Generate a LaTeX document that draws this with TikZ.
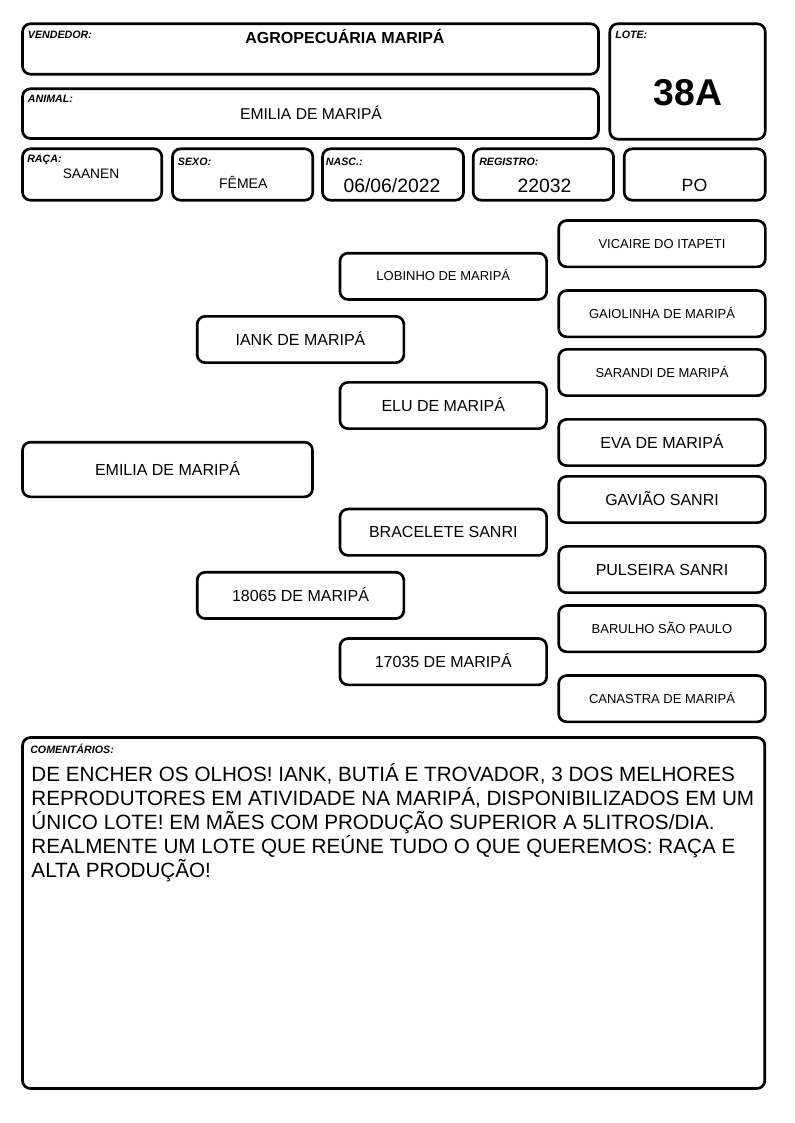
\documentclass[tikz,border=0pt]{standalone}
\usepackage{fontspec}
\setmainfont{Liberation Sans}
\usetikzlibrary{positioning}

\begin{document}
\begin{tikzpicture}[x=0.75pt,y=-0.75pt]
\tikzset{
	frame/.style = {draw, line width=2pt, rounded corners=6pt},
	tag/.style = {anchor=base west, inner sep=0, font=\fontsize{8}{9}\selectfont\bfseries\itshape},
	value/.style = {anchor=base, inner sep=0},
	gen/.style = {frame, minimum width=155pt, minimum height=34.7pt, inner sep=0,
		text height=8.6pt, text depth=0pt, font=\fontsize{12}{14}\selectfont},
	gensmall/.style = {gen, text height=7pt, font=\fontsize{9.75}{11}\selectfont}
}
\useasboundingbox (0,0) rectangle (794,1123);

% cabecalho
\draw[frame] (22.5,23.8) rectangle (598.5,74.2);
\draw[frame] (22.5,88.8) rectangle (598.5,138.5);
\draw[frame] (609.8,23.8) rectangle (765.2,139.2);
\node[tag] (vendedor) at (27.7,39) {VENDEDOR:};
\node[value, font=\fontsize{12}{14}\selectfont\bfseries] (vendedornome) at (345,43.3) {AGROPECUÁRIA MARIPÁ};
\node[tag] (animal) at (27.7,102.3) {ANIMAL:};
\node[value, font=\fontsize{11.75}{14}\selectfont] (animalnome) at (311,119.3) {EMILIA DE MARIPÁ};
\node[tag] (lote) at (615,39) {LOTE:};
\node[value, font=\fontsize{28}{32}\selectfont\bfseries] (lotenum) at (688,105.7) {38A};

% dados
\draw[frame] (22.5,148.8) rectangle (161.8,200.2);
\draw[frame] (172.5,148.8) rectangle (312.8,200.2);
\draw[frame] (322.5,148.8) rectangle (463.5,200.2);
\draw[frame] (473.2,148.8) rectangle (613.5,200.2);
\draw[frame] (624.2,148.8) rectangle (765.2,200.2);
\node[tag] (raca) at (27,162.5) {RAÇA:};
\node[value, font=\fontsize{10.3}{12}\selectfont] (racaval) at (91,178.3) {SAANEN};
\node[tag] (sexo) at (177.7,165.7) {SEXO:};
\node[value, font=\fontsize{10.5}{12}\selectfont] (sexoval) at (243.3,189) {FÊMEA};
\node[tag] (nasc) at (325.7,165.7) {NASC.:};
\node[value, font=\fontsize{14.5}{16}\selectfont] (nascval) at (392,192.3) {06/06/2022};
\node[tag] (registro) at (479,165.7) {REGISTRO:};
\node[value, font=\fontsize{14.5}{16}\selectfont] (registroval) at (544.5,192.3) {22032};
\node[value, font=\fontsize{13.3}{15}\selectfont] (categoria) at (694.5,191.7) {PO};

% genealogia
\node[gen, minimum width=217.5pt, minimum height=41pt] (emilia) at (167.5,469.5) {EMILIA DE MARIPÁ};

\node[gen] (iank) at (300.5,339.5) {IANK DE MARIPÁ};
\node[gen] (m18065) at (300.5,595.4) {18065 DE MARIPÁ};

\node[gensmall] (lobinho) at (443.3,276.3) {LOBINHO DE MARIPÁ};
\node[gen] (elu) at (443.3,405.5) {ELU DE MARIPÁ};
\node[gen] (bracelete) at (443.3,532.2) {BRACELETE SANRI};
\node[gen] (m17035) at (443.3,661.7) {17035 DE MARIPÁ};

\node[gensmall] (vicaire) at (662,243.7) {VICAIRE DO ITAPETI};
\node[gensmall] (gaiolinha) at (662,313.7) {GAIOLINHA DE MARIPÁ};
\node[gensmall] (sarandi) at (662,372.5) {SARANDI DE MARIPÁ};
\node[gen] (eva) at (662,442.5) {EVA DE MARIPÁ};
\node[gen] (gaviao) at (662,499.5) {GAVIÃO SANRI};
\node[gen] (pulseira) at (662,569.5) {PULSEIRA SANRI};
\node[gensmall] (barulho) at (662,628.7) {BARULHO SÃO PAULO};
\node[gensmall] (canastra) at (662,698.7) {CANASTRA DE MARIPÁ};

% comentarios
\draw[frame] (22.5,737.5) rectangle (764.8,1088.5);
\node[tag] (comentarios) at (30,753.3) {COMENTÁRIOS:};
% base = ultima linha
\node[anchor=base west, inner sep=0, align=left, font=\fontsize{15.5}{18}\selectfont] (comentariotexto) at (31.2,877)
	{DE ENCHER OS OLHOS! IANK, BUTIÁ E TROVADOR, 3 DOS MELHORES\\
	REPRODUTORES EM ATIVIDADE NA MARIPÁ, DISPONIBILIZADOS EM UM\\
	ÚNICO LOTE! EM MÃES COM PRODUÇÃO SUPERIOR A 5LITROS/DIA.\\
	REALMENTE UM LOTE QUE REÚNE TUDO O QUE QUEREMOS: RAÇA E\\
	ALTA PRODUÇÃO!};
\end{tikzpicture}
\end{document}
